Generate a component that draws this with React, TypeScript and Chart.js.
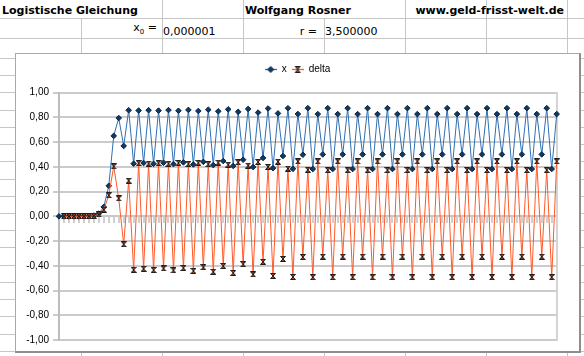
import React, { useEffect, useRef } from 'react';
import { Chart, registerables } from 'chart.js';

Chart.register(...registerables);

// ---------- data ----------
const steps = [
  0, 1, 2, 3, 4, 5, 6, 7, 8, 9,
  10, 11, 12, 13, 14, 15, 16, 17, 18, 19,
  20, 21, 22, 23, 24, 25, 26, 27, 28, 29,
  30, 31, 32, 33, 34, 35, 36, 37, 38, 39,
  40, 41, 42, 43, 44, 45, 46, 47, 48, 49,
  50, 51, 52, 53, 54, 55, 56, 57, 58, 59,
  60, 61, 62, 63, 64, 65, 66, 67, 68, 69,
  70, 71, 72, 73, 74, 75, 76, 77, 78, 79,
  80, 81, 82, 83, 84, 85, 86, 87, 88, 89,
  90, 91, 92, 93, 94, 95, 96, 97, 98, 99,
  100,
];

const xValues = [
  0.000001, 0.0000035, 0.0000122, 0.0000429, 0.00015, 0.000525, 0.00184, 0.00642, 0.02232, 0.07637,
  0.24687, 0.65074, 0.79548, 0.56943, 0.85813, 0.4261, 0.85589, 0.43171, 0.85868, 0.42473,
  0.85517, 0.43349, 0.85952, 0.42262, 0.85404, 0.43629, 0.86079, 0.4194, 0.85226, 0.44069,
  0.86269, 0.4146, 0.84948, 0.44753, 0.86537, 0.40778, 0.84523, 0.45785, 0.86878, 0.399,
  0.8393, 0.47207, 0.87227, 0.38995, 0.83261, 0.48779, 0.87448, 0.38418, 0.82805, 0.49834,
  0.87499, 0.38284, 0.82696, 0.50085, 0.875, 0.38282, 0.82694, 0.50088, 0.875, 0.38282,
  0.82694, 0.50088, 0.875, 0.38282, 0.82694, 0.50088, 0.875, 0.38282, 0.82694, 0.50088,
  0.875, 0.38282, 0.82694, 0.50088, 0.875, 0.38282, 0.82694, 0.50088, 0.875, 0.38282,
  0.82694, 0.50088, 0.875, 0.38282, 0.82694, 0.50088, 0.875, 0.38282, 0.82694, 0.50088,
  0.875, 0.38282, 0.82694, 0.50088, 0.875, 0.38282, 0.82694, 0.50088, 0.875, 0.38282,
  0.82694,
];

const deltaValues = [
  null, 0.0000025, 0.0000087, 0.0000306, 0.000107, 0.000375, 0.00131, 0.00458, 0.0159, 0.05405,
  0.1705, 0.40387, 0.14474, -0.22605, 0.2887, -0.43203, 0.42978, -0.42418, 0.42697, -0.43395,
  0.43044, -0.42168, 0.42603, -0.4369, 0.43142, -0.41775, 0.4245, -0.44139, 0.43286, -0.41157,
  0.422, -0.44808, 0.43487, -0.40194, 0.41783, -0.45759, 0.43745, -0.38738, 0.41093, -0.46978,
  0.4403, -0.36723, 0.4002, -0.48232, 0.44266, -0.34482, 0.38669, -0.4903, 0.44387, -0.32971,
  0.37665, -0.49215, 0.44412, -0.32611, 0.37415, -0.49218, 0.44412, -0.32606, 0.37412, -0.49218,
  0.44412, -0.32606, 0.37412, -0.49218, 0.44412, -0.32606, 0.37412, -0.49218, 0.44412, -0.32606,
  0.37412, -0.49218, 0.44412, -0.32606, 0.37412, -0.49218, 0.44412, -0.32606, 0.37412, -0.49218,
  0.44412, -0.32606, 0.37412, -0.49218, 0.44412, -0.32606, 0.37412, -0.49218, 0.44412, -0.32606,
  0.37412, -0.49218, 0.44412, -0.32606, 0.37412, -0.49218, 0.44412, -0.32606, 0.37412, -0.49218,
  0.44412,
];

const seriesNames = ['x', 'delta'];
const yMin = -1;
const yMax = 1;
const yStep = 0.2;

const sheetTitle = 'Logistische Gleichung';
const sheetAuthor = 'Wolfgang Rosner';
const sheetUrl = 'www.geld-frisst-welt.de';
const x0Label = 'x';
const x0Sub = '0';
const x0Value = '0,000001';
const rLabel = 'r =';
const rValue = '3,500000';

// ---------- styles ----------
const X_LINE = '#2f6fb2';
const X_MARK_FILL = '#0e3a66';
const X_MARK_BORDER = '#08233f';
const D_LINE = '#ff5a28';
const D_MARK_FILL = '#b8401c';
const D_MARK_BORDER = '#1c1c1c';

function makeHourglass(size: number) {
  const c = document.createElement('canvas');
  c.width = size;
  c.height = size;
  const g = c.getContext('2d')!;
  const a = 0.5;
  const b = size - 0.5;
  g.beginPath();
  g.moveTo(a, a);
  g.lineTo(b, a);
  g.lineTo(a, b);
  g.lineTo(b, b);
  g.closePath();
  g.fillStyle = D_MARK_FILL;
  g.fill();
  g.lineWidth = 1;
  g.strokeStyle = D_MARK_BORDER;
  g.stroke();
  return c;
}

function makeLegendIcon(kind: 'x' | 'delta') {
  const w = 12;
  const h = 8;
  const c = document.createElement('canvas');
  c.width = w;
  c.height = h;
  const g = c.getContext('2d')!;
  g.strokeStyle = kind === 'x' ? X_LINE : D_LINE;
  g.lineWidth = 1.3;
  g.beginPath();
  g.moveTo(0, 4.5);
  g.lineTo(w, 4.5);
  g.stroke();
  g.lineWidth = 1;
  if (kind === 'x') {
    g.beginPath();
    g.moveTo(6, 1.5);
    g.lineTo(9, 4.5);
    g.lineTo(6, 7.5);
    g.lineTo(3, 4.5);
    g.closePath();
    g.fillStyle = X_MARK_FILL;
    g.fill();
    g.strokeStyle = X_MARK_BORDER;
    g.stroke();
  } else {
    g.beginPath();
    g.moveTo(3.5, 1.5);
    g.lineTo(8.5, 1.5);
    g.lineTo(3.5, 7.5);
    g.lineTo(8.5, 7.5);
    g.closePath();
    g.fillStyle = D_MARK_FILL;
    g.fill();
    g.strokeStyle = D_MARK_BORDER;
    g.stroke();
  }
  return c;
}

const legendGap = {
  id: 'legendGap',
  beforeInit(chart: any) {
    const legend = chart.legend;
    if (!legend) return;
    const orig = legend.fit;
    legend.fit = function () {
      orig.call(this);
      this.height += 8.7;
    };
  },
};

const COLS = [81, 162, 243, 324, 405, 486, 567];
const ROW1_HIDDEN = [81, 324];
const ROWS = [18, 38];
const LOWER_ROWS = Array.from({ length: 18 }, (_, k) => Math.round(58 + 17.22 * k));
const GRID = '#c6c6c6';

export default function App() {
  const ref = useRef<HTMLCanvasElement>(null);

  useEffect(() => {
    const canvas = ref.current;
    if (!canvas) return;
    Chart.defaults.font.family = "'Liberation Sans', Arial, sans-serif";
    Chart.defaults.font.size = 10;
    const hourglass = makeHourglass(6);
    const iconX = makeLegendIcon('x');
    const iconD = makeLegendIcon('delta');

    const chart = new Chart(canvas, {
      type: 'line',
      data: {
        labels: steps,
        datasets: [
          {
            label: seriesNames[0],
            data: xValues,
            borderColor: X_LINE,
            borderWidth: 1,
            pointStyle: 'rectRot',
            pointRadius: 2.8,
            pointBackgroundColor: X_MARK_FILL,
            pointBorderColor: X_MARK_BORDER,
            pointBorderWidth: 1,
            tension: 0,
            order: 1,
            yAxisID: 'y',
          },
          {
            label: seriesNames[1],
            data: deltaValues,
            borderColor: D_LINE,
            borderWidth: 1,
            pointStyle: hourglass as any,
            pointRadius: 3,
            tension: 0,
            spanGaps: true,
            order: 0,
            yAxisID: 'y',
          },
        ],
      },
      options: {
        responsive: false,
        animation: false,
        devicePixelRatio: 1,
        events: [],
        layout: { padding: { top: 5, right: 0, bottom: 11, left: 0 } },
        plugins: {
          tooltip: { enabled: false },
          legend: {
            display: true,
            position: 'top',
            labels: {
              usePointStyle: true,
              pointStyleWidth: 12,
              padding: 5,
              color: '#000',
              font: { size: 10 },
              generateLabels: (ch: any) => {
                const items = (Chart.defaults.plugins.legend.labels as any).generateLabels(ch);
                items.sort((p: any, q: any) => p.datasetIndex - q.datasetIndex);
                items.forEach((it: any) => {
                  it.pointStyle = it.datasetIndex === 0 ? iconX : iconD;
                  it.fontColor = '#000';
                });
                return items;
              },
            },
          },
        },
        scales: {
          x: {
            type: 'category',
            position: { y: 0 } as any,
            offset: false,
            ticks: { display: false },
            grid: {
              drawOnChartArea: false,
              drawTicks: true,
              tickLength: 6,
              color: '#d0d0d0',
              lineWidth: 2,
            },
            border: { display: true, color: '#c8c8c8', width: 2 },
          },
          y: {
            min: yMin,
            max: yMax,
            ticks: {
              stepSize: yStep,
              color: '#000',
              padding: 4,
              font: { size: 10 },
              callback: (v: any) => Number(v).toFixed(2).replace('.', ','),
            },
            grid: { color: '#cbcbcb', lineWidth: 2, tickLength: 6, drawTicks: true },
            border: { display: true, color: '#bdbdbd', width: 2 },
            afterFit: (scale: any) => {
              scale.width = 43;
            },
          },
          y2: {
            type: 'linear',
            position: 'right',
            min: yMin,
            max: yMax,
            ticks: { display: false },
            grid: { drawOnChartArea: false, drawTicks: false, lineWidth: 2, color: 'rgba(0,0,0,0)' },
            border: { display: true, color: '#d4d4d4', width: 2 },
            afterFit: (scale: any) => {
              scale.width = 22.3;
            },
          },
        },
      },
      plugins: [legendGap],
    } as any);
    return () => chart.destroy();
  }, []);

  const text: React.CSSProperties = {
    position: 'absolute',
    fontFamily: "'DejaVu Sans', sans-serif",
    fontSize: 11,
    lineHeight: '13px',
    color: '#000',
    whiteSpace: 'nowrap',
  };

  return (
    <div
      style={{
        position: 'fixed',
        left: 0,
        top: 0,
        width: 584,
        height: 356,
        background: '#fff',
        overflow: 'hidden',
      }}
    >
      {COLS.map((c) => (
        <div
          key={'c' + c}
          style={{
            position: 'absolute',
            left: c,
            top: ROW1_HIDDEN.includes(c) ? 18 : 0,
            width: 1,
            height: 356,
            background: GRID,
          }}
        />
      ))}
      {ROWS.concat(LOWER_ROWS).map((r) => (
        <div
          key={'r' + r}
          style={{ position: 'absolute', left: 0, top: r, width: 584, height: 1, background: GRID }}
        />
      ))}

      <span style={{ ...text, left: 2, top: 4, fontWeight: 'bold', background: '#fff' }}>{sheetTitle}</span>
      <span style={{ ...text, left: 245, top: 4, fontWeight: 'bold', background: '#fff' }}>{sheetAuthor}</span>
      <span style={{ ...text, right: 20, top: 4, fontWeight: 'bold' }}>{sheetUrl}</span>

      <span style={{ ...text, right: 584 - 157, top: 21 }}>
        {x0Label}
        <span style={{ fontSize: 7, position: 'relative', top: 3 }}>{x0Sub}</span>
        {' ='}
      </span>
      <span style={{ ...text, left: 163, top: 25 }}>{x0Value}</span>
      <span style={{ ...text, right: 584 - 317, top: 25 }}>{rLabel}</span>
      <span style={{ ...text, left: 325, top: 25 }}>{rValue}</span>

      <div
        style={{
          position: 'absolute',
          left: 15,
          top: 53,
          width: 563,
          height: 297,
          background: '#fff',
          borderLeft: '1px solid #a8a8a8',
          borderTop: '1px solid #a8a8a8',
          borderRight: '2px solid #8e8e8e',
          borderBottom: '2px solid #8e8e8e',
        }}
      >
        <canvas
          ref={ref}
          width={563}
          height={297}
          style={{ display: 'block', width: 563, height: 297 }}
        />
      </div>
    </div>
  );
}
